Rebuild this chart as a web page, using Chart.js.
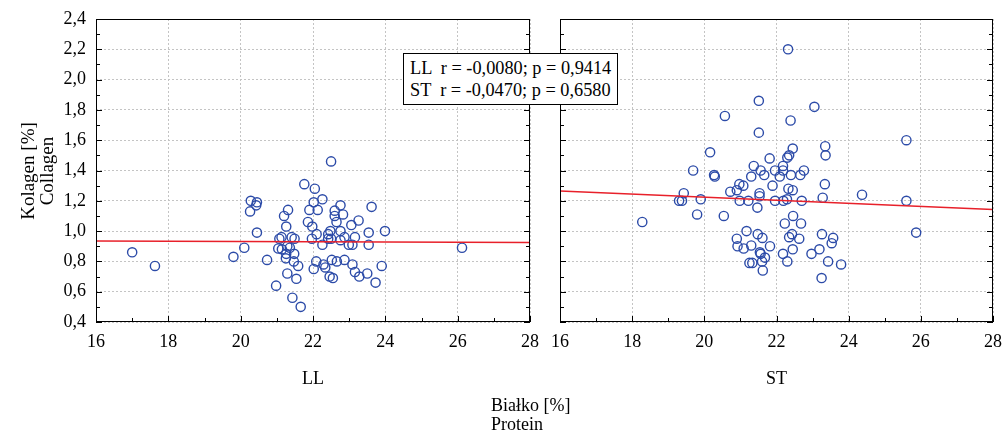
<!DOCTYPE html>
<html>
<head>
<meta charset="utf-8">
<script src="https://cdn.jsdelivr.net/npm/chart.js@4.4.0/dist/chart.umd.min.js"></script>
<style>
  body { margin: 0; background: #fff; width: 1005px; height: 434px; position: relative; overflow: hidden;
         font-family: "Liberation Serif", "Times New Roman", serif; color: #000; }
  canvas { position: absolute; top: 0; }
  #c1 { left: 0; }
  #c2 { left: 545px; }
  .txt { position: absolute; font-size: 18px; white-space: pre; }
  #stats { left: 403px; top: 53px; width: 215px; height: 52px; box-sizing: border-box; border: 1px solid #000;
           background: #fff; line-height: 22px; padding: 3px 0 0 6px; z-index: 2; font-size: 18.3px; }
  #ytitle { left: -63px; top: 152px; width: 200px; height: 38px; line-height: 19px; text-align: center;
            transform: rotate(-90deg); font-size: 19px; }
  #xtitle { left: 491px; top: 396px; line-height: 19px; }
</style>
</head>
<body>
<canvas id="c1" width="545" height="434"></canvas>
<canvas id="c2" width="460" height="434"></canvas>
<div class="txt" id="stats">LL  r = -0,0080; p = 0,9414
ST  r = -0,0470; p = 0,6580</div>
<div class="txt" id="ytitle">Kolagen [%]
Collagen</div>
<div class="txt" id="xtitle">Białko [%]
Protein</div>
<script>
// LL group: protein (x) vs collagen (y)
const llX = [17.00, 17.63, 19.80, 20.10, 20.28, 20.45, 20.43, 20.26, 20.45, 20.73, 20.98, 22.50, 21.76, 22.05,
  22.26, 22.02, 21.90, 22.13, 21.31, 21.20, 22.76, 22.60, 22.83, 22.60, 23.62, 22.65, 21.86, 23.26, 23.06,
  21.26, 21.98, 22.76, 22.48, 22.42, 22.10, 23.54, 23.99, 21.13, 21.41, 21.49, 21.07, 21.97, 22.42, 22.87,
  23.16, 22.76, 22.50, 22.26, 22.99, 23.09, 23.54, 21.29, 21.36, 21.04, 21.14, 21.26, 21.48, 21.25, 21.47,
  21.59, 22.09, 22.02, 22.29, 22.52, 22.66, 22.87, 23.09, 23.16, 23.28, 23.50, 23.90, 23.73, 22.46, 22.55,
  22.34, 21.29, 21.54, 21.43, 21.66, 26.12];
const llY = [0.86, 0.77, 0.83, 0.89, 1.20, 1.19, 1.17, 1.13, 0.99, 0.81, 0.64, 1.46, 1.31, 1.28,
  1.21, 1.19, 1.14, 1.14, 1.14, 1.10, 1.17, 1.135, 1.11, 1.10, 1.16, 1.06, 1.06, 1.07, 1.04,
  1.03, 1.03, 1.00, 1.00, 0.98, 0.98, 0.99, 1.00, 0.96, 0.96, 0.95, 0.95, 0.95, 0.95, 0.96,
  0.96, 0.94, 0.95, 0.91, 0.91, 0.91, 0.91, 0.90, 0.89, 0.885, 0.88, 0.85, 0.85, 0.82, 0.80,
  0.77, 0.80, 0.75, 0.78, 0.81, 0.80, 0.81, 0.78, 0.73, 0.70, 0.72, 0.77, 0.66, 0.70, 0.69,
  0.76, 0.72, 0.685, 0.56, 0.50, 0.89];

// ST group
const stX = [18.28, 19.43, 19.30, 19.38, 19.90, 19.80, 20.54, 19.69, 20.16, 20.57, 20.27, 20.29, 20.72, 20.90,
  20.97, 21.08, 20.98, 21.22, 21.17, 20.90, 20.92, 21.09, 21.25, 22.32, 21.51, 23.05, 22.39, 21.51, 25.60,
  22.45, 23.35, 23.36, 22.35, 22.30, 21.81, 21.37, 22.18, 21.56, 21.96, 22.76, 22.66, 21.30, 21.66, 22.09,
  22.40, 22.18, 21.89, 22.33, 22.45, 23.34, 23.28, 22.70, 21.96, 22.19, 22.29, 21.47, 21.53, 21.53, 22.46,
  22.23, 22.68, 22.43, 23.26, 22.35, 22.63, 21.82, 23.57, 23.53, 21.61, 22.45, 23.19, 22.18, 22.97, 21.68,
  22.30, 23.43, 23.79, 23.25, 24.37, 25.60, 25.87, 21.48, 21.30, 21.54, 21.33, 21.60, 21.62, 21.56];
const stY = [1.06, 1.25, 1.20, 1.20, 1.21, 1.11, 1.10, 1.40, 1.52, 1.76, 1.37, 1.36, 1.26, 1.27,
  1.31, 1.30, 1.20, 1.20, 1.00, 0.95, 0.90, 0.885, 0.79, 2.20, 1.86, 1.82, 1.73, 1.65, 1.60,
  1.545, 1.56, 1.50, 1.50, 1.485, 1.48, 1.43, 1.43, 1.40, 1.40, 1.40, 1.37, 1.36, 1.37, 1.36,
  1.37, 1.40, 1.30, 1.28, 1.27, 1.31, 1.22, 1.20, 1.20, 1.20, 1.21, 1.155, 1.23, 1.25, 1.10,
  1.05, 1.05, 0.98, 0.98, 0.96, 0.95, 0.90, 0.955, 0.92, 0.955, 0.88, 0.88, 0.85, 0.85, 0.825,
  0.80, 0.80, 0.78, 0.69, 1.24, 1.20, 0.99, 0.98, 0.905, 0.86, 0.79, 0.80, 0.74, 0.85];

// regression lines, value at x = 16 and x = 28
const fitX = [16, 28];
const llFit = [0.935, 0.925];
const stFit = [1.265, 1.143];

const xTicks = [16, 18, 20, 22, 24, 26, 28];
const yMin = 0.4, yMax = 2.4;

const serif = '"Liberation Serif", "Times New Roman", serif';
const blue = '#2c4ba8';
const red = '#e8202a';

const toPts = (xs, ys) => xs.map((x, i) => ({ x: x, y: ys[i] }));

// frame + inward tick marks (major and minor)
const frame = {
  id: 'frame',
  afterDraw(chart) {
    const { ctx, chartArea: a, scales: { x, y } } = chart;
    ctx.save();
    ctx.strokeStyle = '#000';
    ctx.lineWidth = 1;
    ctx.strokeRect(Math.round(a.left) + 0.5, Math.round(a.top) + 0.5,
      Math.round(a.right - a.left) - 1, Math.round(a.bottom - a.top) - 1);
    ctx.beginPath();
    for (let v = xTicks[0]; v <= xTicks[xTicks.length - 1]; v++) {
      const px = Math.round(x.getPixelForValue(v)) + 0.5;
      const len = v % 2 === 0 ? 6 : 4;
      ctx.moveTo(px, a.bottom);
      ctx.lineTo(px, a.bottom - len);
    }
    for (let k = Math.round(yMin * 10); k <= Math.round(yMax * 10); k++) {
      const py = Math.round(y.getPixelForValue(k / 10)) + 0.5;
      const len = k % 2 === 0 ? 6 : 4;
      ctx.moveTo(a.left, py);
      ctx.lineTo(a.left + len, py);
      ctx.moveTo(a.right, py);
      ctx.lineTo(a.right - len, py);
    }
    ctx.stroke();
    ctx.restore();
  }
};

function makeChart(id, name, xs, ys, fit, leftW, rightPad, showY) {
  return new Chart(document.getElementById(id), {
    type: 'scatter',
    data: {
      datasets: [
        {
          data: toPts(fitX, fit),
          showLine: true,
          borderColor: red,
          borderWidth: 1.5,
          pointRadius: 0
        },
        {
          data: toPts(xs, ys),
          pointRadius: 4.6,
          pointBorderWidth: 1.4,
          borderColor: blue,
          backgroundColor: 'rgba(0,0,0,0)'
        }
      ]
    },
    options: {
      responsive: false,
      animation: false,
      layout: { padding: { left: 0, right: rightPad, top: 19, bottom: 40 } },
      plugins: { legend: { display: false }, tooltip: { enabled: false } },
      scales: {
        x: {
          type: 'linear', min: 16, max: 28,
          afterBuildTicks: s => { s.ticks = xTicks.map(v => ({ value: v })); },
          ticks: { color: '#000', font: { family: serif, size: 18 }, padding: 9, maxRotation: 0 },
          grid: { color: '#c4c4c4', drawTicks: false },
          border: { display: false, dash: [2, 2] },
          title: { display: true, text: name, color: '#000', font: { family: serif, size: 18 } },
          afterFit: s => { s.height = 72; s.paddingLeft = 0; s.paddingRight = 0; }
        },
        y: {
          min: yMin, max: yMax,
          ticks: {
            display: showY, stepSize: 0.2, color: '#000', font: { family: serif, size: 18 }, padding: 10,
            callback: v => v.toFixed(1).replace('.', ',')
          },
          grid: { color: '#c4c4c4', drawTicks: false },
          border: { display: false, dash: [2, 2] },
          afterFit: s => { s.width = leftW; s.paddingTop = 0; s.paddingBottom = 0; }
        }
      }
    },
    plugins: [frame]
  });
}

makeChart('c1', 'LL', llX, llY, llFit, 96, 15, true);
makeChart('c2', 'ST', stX, stY, stFit, 15, 12, false);
</script>
</body>
</html>
